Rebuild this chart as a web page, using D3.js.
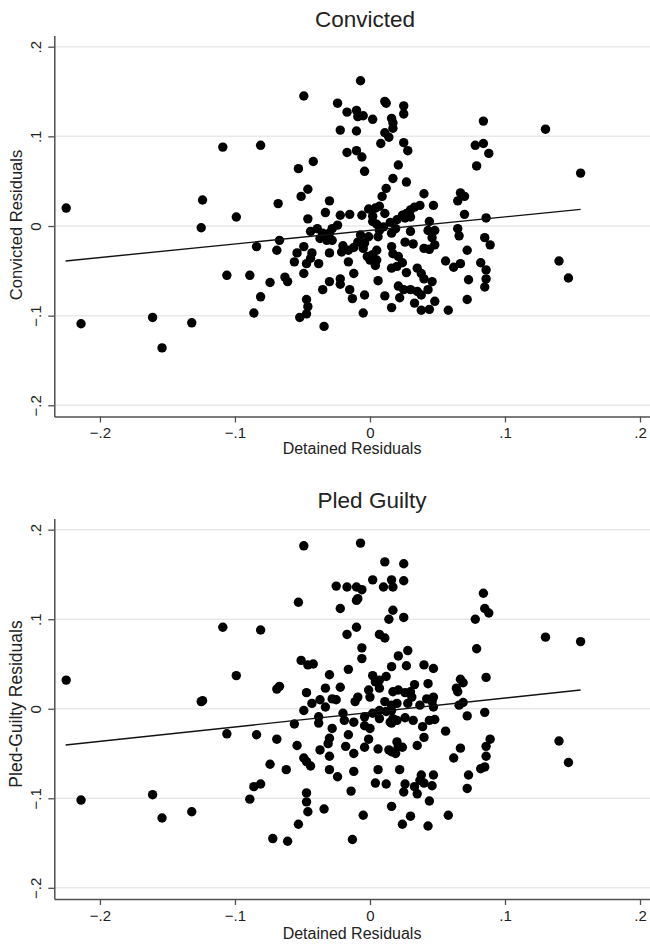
<!DOCTYPE html>
<html>
<head>
<meta charset="utf-8">
<script src="https://cdn.jsdelivr.net/npm/d3@7"></script>
<style>
body { margin: 0; background: #fff; }
svg { display: block; }
text { font-family: "Liberation Sans", Arial, Helvetica, sans-serif; fill: #222; }
</style>
</head>
<body>
<svg id="chart" width="650" height="944"></svg>
<script>
// residuals: [detained, convicted]
var convictedPoints = [
  [-0.225,0.020],[-0.214,-0.109],[-0.161,-0.102],[-0.154,-0.136],[-0.132,-0.108],[-0.125,-0.002],
  [-0.124,0.029],[-0.109,0.088],[-0.106,-0.055],[-0.099,0.010],[-0.089,-0.055],[-0.086,-0.097],
  [-0.084,-0.023],[-0.081,0.090],[-0.081,-0.079],[-0.074,-0.063],
  [-0.007,0.162],[-0.049,0.145],[-0.024,0.137],[0.011,0.139],[0.012,0.137],[-0.017,0.127],
  [-0.010,0.129],[-0.009,0.122],[-0.005,0.123],[0.002,0.119],[-0.022,0.107],[-0.010,0.106],
  [0.011,0.104],[0.014,0.099],[0.008,0.092],[-0.017,0.082],[-0.010,0.084],[-0.006,0.077],
  [-0.004,0.061],[-0.053,0.064],[-0.042,0.072],[0.012,0.042],[0.009,0.033],[-0.046,0.041],
  [-0.051,0.033],[-0.068,0.025],[-0.030,0.028],[-0.033,0.015],[-0.046,0.008],[-0.022,0.012],
  [-0.015,0.013],[-0.006,0.012],[-0.001,0.019],[0.004,0.020],[0.007,0.022],[0.011,0.014],
  [0.002,0.011],[0.002,0.005],[0.005,0.002],[-0.024,0.001],[-0.039,-0.003],[-0.044,-0.006],
  [-0.028,-0.003],[-0.035,-0.008],[-0.030,-0.008],[-0.037,-0.014],[-0.032,-0.016],[-0.028,-0.016],
  [-0.067,-0.016],[-0.069,-0.027],[-0.049,-0.023],[-0.054,-0.030],[-0.056,-0.040],[-0.043,-0.030],
  [-0.044,-0.036],[-0.047,-0.042],[-0.049,-0.053],[-0.038,-0.042],[-0.030,-0.030],[-0.021,-0.029],
  [-0.020,-0.022],[-0.016,-0.027],[-0.012,-0.024],[-0.016,-0.040],[-0.007,-0.010],[-0.009,-0.018],
  [-0.004,-0.019],[-0.005,-0.025],[-0.002,-0.034],[0.002,-0.032],[0.005,-0.027],[0.000,-0.038],
  [0.005,-0.038],[0.004,-0.044],[-0.001,-0.012],[0.006,-0.012],[0.007,-0.005],[0.010,-0.001],
  [-0.012,-0.053],[0.006,-0.061],[-0.063,-0.057],[-0.061,-0.062],[-0.035,-0.071],[-0.030,-0.062],
  [-0.022,-0.059],[-0.022,-0.065],[-0.015,-0.071],[-0.013,-0.081],[-0.004,-0.077],[0.011,-0.078],
  [-0.047,-0.082],[-0.046,-0.090],[-0.047,-0.098],[-0.052,-0.102],[-0.005,-0.097],[-0.034,-0.112],
  [0.016,0.120],[0.017,0.115],[0.017,0.109],[0.025,0.134],[0.025,0.125],[0.025,0.093],
  [0.028,0.084],[0.021,0.068],[0.017,0.053],[0.027,0.049],[0.084,0.117],[0.078,0.090],
  [0.084,0.092],[0.088,0.081],[0.079,0.067],[0.040,0.036],[0.067,0.037],[0.070,0.033],
  [0.065,0.028],[0.047,0.023],[0.037,0.023],[0.033,0.021],[0.030,0.018],[0.027,0.014],
  [0.024,0.012],[0.026,0.009],[0.020,0.007],[0.030,0.010],[0.070,0.013],[0.086,0.009],
  [0.044,0.005],[0.015,0.004],[0.019,-0.003],[0.016,-0.008],[0.030,-0.006],[0.043,-0.005],
  [0.048,-0.005],[0.046,-0.013],[0.048,-0.021],[0.040,-0.025],[0.044,-0.026],[0.065,-0.003],
  [0.066,-0.011],[0.085,-0.013],[0.089,-0.021],[0.026,-0.018],[0.032,-0.020],[0.016,-0.023],
  [0.017,-0.031],[0.072,-0.027],[0.021,-0.034],[0.024,-0.041],[0.020,-0.045],[0.016,-0.047],
  [0.056,-0.039],[0.062,-0.046],[0.067,-0.042],[0.082,-0.041],[0.086,-0.049],[0.027,-0.052],
  [0.035,-0.047],[0.038,-0.053],[0.040,-0.059],[0.046,-0.062],[0.073,-0.060],[0.086,-0.059],
  [0.085,-0.068],[0.021,-0.067],[0.025,-0.071],[0.022,-0.080],[0.030,-0.071],[0.035,-0.073],
  [0.038,-0.077],[0.043,-0.071],[0.033,-0.086],[0.038,-0.094],[0.044,-0.093],[0.048,-0.084],
  [0.016,-0.091],[0.058,-0.094],[0.072,-0.082],
  [0.130,0.108],[0.156,0.059],[0.140,-0.039],[0.147,-0.058]
];

// [detained, pled guilty]
var pledPoints = [
  [-0.225,0.032],[-0.214,-0.102],[-0.161,-0.096],[-0.154,-0.122],[-0.132,-0.115],[-0.125,0.008],
  [-0.124,0.009],[-0.109,0.091],[-0.106,-0.028],[-0.099,0.037],[-0.089,-0.101],[-0.086,-0.087],
  [-0.084,-0.029],[-0.081,0.088],[-0.081,-0.084],[-0.074,-0.062],
  [-0.007,0.185],[-0.049,0.182],[0.011,0.164],[0.002,0.144],[-0.025,0.137],[-0.017,0.136],
  [-0.010,0.136],[-0.006,0.133],[-0.009,0.123],[-0.010,0.121],[0.010,0.136],[-0.053,0.119],
  [-0.022,0.112],[0.014,0.100],[-0.010,0.091],[-0.017,0.083],[0.007,0.083],[0.011,0.079],
  [-0.006,0.068],[-0.006,0.056],[-0.051,0.054],[-0.046,0.049],[-0.042,0.050],[-0.016,0.044],
  [-0.030,0.038],[0.002,0.037],[0.004,0.030],[0.007,0.032],[0.012,0.036],[-0.067,0.025],
  [-0.069,0.022],[-0.033,0.023],[-0.022,0.024],[-0.047,0.018],[-0.001,0.021],[0.007,0.023],
  [0.000,0.013],[-0.009,0.013],[-0.011,0.008],[-0.043,0.006],[-0.037,0.010],[-0.028,0.011],
  [-0.025,0.010],[0.011,0.008],[-0.049,-0.002],[-0.033,0.002],[-0.020,-0.005],[-0.004,-0.009],
  [0.002,-0.005],[0.007,-0.002],[0.012,-0.003],[-0.056,-0.017],[-0.038,-0.016],[-0.019,-0.013],
  [-0.012,-0.015],[-0.004,-0.019],[0.000,-0.022],[0.007,-0.011],[0.015,-0.015],[-0.069,-0.034],
  [-0.028,-0.022],[-0.030,-0.033],[-0.016,-0.029],[-0.001,-0.034],[-0.054,-0.041],[-0.031,-0.039],
  [-0.018,-0.042],[-0.004,-0.043],[0.006,-0.045],[0.014,-0.046],[-0.037,-0.046],[-0.030,-0.053],
  [-0.012,-0.050],[-0.049,-0.055],[-0.047,-0.059],[-0.044,-0.064],[-0.062,-0.068],[-0.030,-0.068],
  [-0.024,-0.076],[-0.012,-0.070],[0.006,-0.068],[0.004,-0.083],[0.012,-0.084],[-0.014,-0.092],
  [-0.047,-0.094],[-0.047,-0.104],[-0.046,-0.115],[-0.034,-0.112],[-0.053,-0.129],[-0.005,-0.119],
  [-0.072,-0.145],[-0.061,-0.148],[-0.013,-0.146],[-0.038,-0.009],
  [0.025,0.162],[0.016,0.144],[0.017,0.136],[0.025,0.143],[0.017,0.110],[0.025,0.102],
  [0.084,0.129],[0.085,0.112],[0.088,0.107],[0.078,0.100],[0.079,0.067],[0.028,0.065],
  [0.021,0.059],[0.016,0.047],[0.027,0.048],[0.040,0.049],[0.047,0.045],[0.086,0.035],
  [0.067,0.033],[0.069,0.029],[0.064,0.023],[0.065,0.019],[0.033,0.027],[0.030,0.019],
  [0.026,0.018],[0.021,0.021],[0.017,0.019],[0.043,0.028],[0.031,0.013],[0.028,0.006],
  [0.020,0.006],[0.016,0.004],[0.037,0.004],[0.042,0.011],[0.046,0.008],[0.047,0.013],
  [0.047,0.002],[0.066,0.004],[0.069,0.007],[0.072,-0.008],[0.085,-0.004],[0.016,-0.002],
  [0.017,-0.011],[0.020,-0.013],[0.016,-0.016],[0.026,-0.010],[0.032,-0.013],[0.044,-0.013],
  [0.048,-0.012],[0.039,-0.020],[0.056,-0.025],[0.040,-0.032],[0.035,-0.041],[0.020,-0.037],
  [0.021,-0.042],[0.024,-0.043],[0.016,-0.048],[0.019,-0.050],[0.067,-0.044],[0.062,-0.055],
  [0.089,-0.034],[0.086,-0.042],[0.086,-0.053],[0.085,-0.065],[0.082,-0.067],[0.073,-0.074],
  [0.072,-0.089],[0.022,-0.068],[0.038,-0.074],[0.037,-0.080],[0.040,-0.083],[0.046,-0.086],
  [0.047,-0.074],[0.026,-0.084],[0.025,-0.093],[0.033,-0.087],[0.035,-0.095],[0.044,-0.103],
  [0.016,-0.109],[0.030,-0.120],[0.024,-0.129],[0.043,-0.131],[0.058,-0.119],
  [0.130,0.080],[0.156,0.075],[0.140,-0.036],[0.147,-0.060]
];

var xTicks = [-0.2, -0.1, 0, 0.1, 0.2];
var yTicks = [-0.2, -0.1, 0, 0.1, 0.2];

// fitted lines, ends
var fitX = [-0.2254, 0.156];
var convictedFit = [-0.039, 0.0186];
var pledFit = [-0.0405, 0.0209];

var svg = d3.select("#chart");

// stata style labels: .2, -.2, 0
function fmt(v) {
  if (Math.abs(v) < 1e-9) return "0";
  var s = d3.format(".1f")(Math.abs(v)).replace(/^0/, "");
  return (v < 0 ? "\u2212" : "") + s;
}

function drawPanel(opts) {
  var x = d3.scaleLinear().domain([-0.2338, 0.2074]).range([54.3, 650]);
  var y = d3.scaleLinear().domain([-0.2125, 0.2125]).range([opts.bottom, opts.top]);

  var g = svg.append("g");

  // grid
  g.selectAll(".grid")
    .data(yTicks)
    .enter()
    .append("line")
    .attr("x1", 55).attr("x2", 650)
    .attr("y1", function(d) { return y(d); })
    .attr("y2", function(d) { return y(d); })
    .style("stroke", "#e9e9e9")
    .style("stroke-width", 1.5);

  // x axis
  var xa = g.append("g")
    .attr("transform", "translate(0," + opts.bottom + ")")
    .call(d3.axisBottom(x).tickValues(xTicks).tickFormat(fmt).tickSize(6).tickSizeOuter(0).tickPadding(5));

  // y axis
  var ya = g.append("g")
    .attr("transform", "translate(54.3,0)")
    .call(d3.axisLeft(y).tickValues(yTicks).tickFormat(fmt).tickSize(6).tickSizeOuter(0));

  ya.selectAll("text")
    .attr("x", null).attr("dy", null)
    .attr("text-anchor", "middle")
    .attr("transform", "translate(-13.5,0) rotate(-90)");

  [xa, ya].forEach(function(a) {
    a.select(".domain").style("stroke", "#505050").style("stroke-width", 1.5);
    a.selectAll(".tick line").style("stroke", "#505050").style("stroke-width", 1.3);
    a.selectAll("text").style("font-size", "15px").style("fill", "#222")
      .style("font-family", "'Liberation Sans', Arial, sans-serif");
  });

  // points
  g.selectAll(".dot")
    .data(opts.points)
    .enter()
    .append("circle")
    .attr("cx", function(d) { return x(d[0]); })
    .attr("cy", function(d) { return y(d[1]); })
    .attr("r", 4.7)
    .style("fill", "#000");

  // fitted line
  var line = d3.line()
    .x(function(d) { return x(d[0]); })
    .y(function(d) { return y(d[1]); });
  g.append("path")
    .datum(fitX.map(function(v, i) { return [v, opts.fit[i]]; }))
    .attr("d", line)
    .style("fill", "none")
    .style("stroke", "#111")
    .style("stroke-width", 1.4);

  // titles
  g.append("text")
    .attr("x", opts.titleX).attr("y", opts.titleY)
    .attr("text-anchor", "middle")
    .style("font-size", "22.5px")
    .text(opts.title);

  g.append("text")
    .attr("x", 352).attr("y", opts.xLabelY)
    .attr("text-anchor", "middle")
    .style("font-size", "16px")
    .text("Detained Residuals");

  g.append("text")
    .attr("transform", "translate(22," + opts.yLabelMid + ") rotate(-90)")
    .attr("text-anchor", "middle")
    .style("font-size", opts.yLabelSize)
    .text(opts.yLabel);
}

drawPanel({
  points: convictedPoints, fit: convictedFit,
  top: 35.5, bottom: 416.5,
  title: "Convicted", titleX: 365, titleY: 26.5,
  xLabelY: 454,
  yLabel: "Convicted Residuals", yLabelMid: 225, yLabelSize: "16.5px"
});

drawPanel({
  points: pledPoints, fit: pledFit,
  top: 518.5, bottom: 899,
  title: "Pled Guilty", titleX: 372, titleY: 508,
  xLabelY: 939,
  yLabel: "Pled-Guilty Residuals", yLabelMid: 704, yLabelSize: "17.5px"
});
</script>
</body>
</html>
